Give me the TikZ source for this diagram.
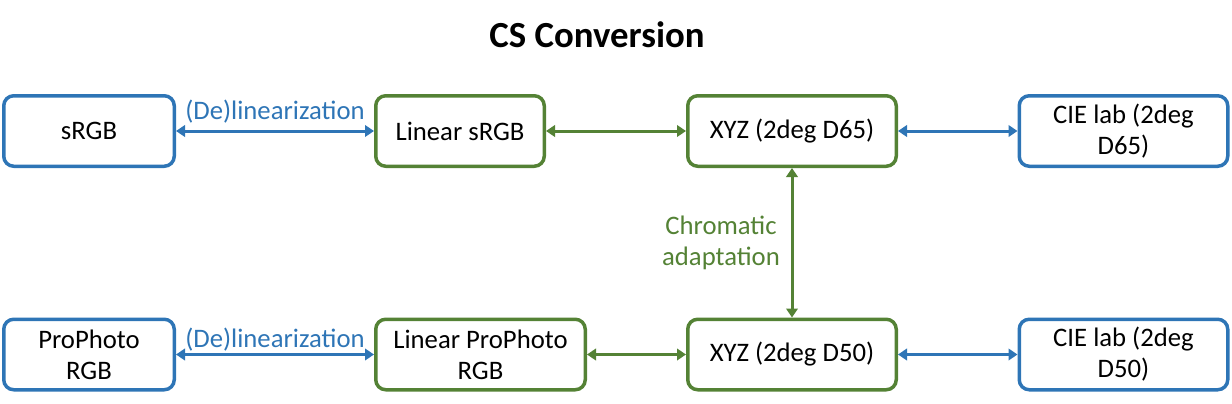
\documentclass[tikz,border=0pt]{standalone}
\usepackage{fontspec}
\setmainfont{Carlito}
\usetikzlibrary{arrows.meta, positioning}
\definecolor{csblue}{RGB}{46,117,182}
\definecolor{csgreen}{RGB}{84,130,53}

\begin{document}
\begin{tikzpicture}[x=0.5pt, y=-0.5pt,
	box/.style={draw=#1, line width=1.75pt, rounded corners=5pt, align=center, minimum height=35.25pt, font=\fontsize{13.35}{15.5}\selectfont},
	link/.style={draw=#1, line width=1.5pt, {Triangle[length=4.5pt, width=5.75pt]}-{Triangle[length=4.5pt, width=5.75pt]}},
	lbl/.style={text=#1, align=center, font=\fontsize{13.35}{15.5}\selectfont}]
	\useasboundingbox (0,0) rectangle (1232,403);
	\node[font=\bfseries\fontsize{18.4}{22}\selectfont] (title) at (597,35) {CS Conversion};
	% top row
	\node[box=csblue, minimum width=85.25pt] (S) at (89,131) {sRGB};
	\node[box=csgreen, minimum width=84.25pt] (LS) at (460,131) {Linear sRGB};
	\node[box=csgreen, minimum width=104.25pt] (X65) at (792,131) {XYZ (2deg D65)};
	\node[box=csblue, minimum width=104.25pt] (L65) at (1123.5,131) {CIE lab (2deg\\D65)};
	% bottom row
	\node[box=csblue, minimum width=85.25pt] (P) at (89,354.5) {ProPhoto\\RGB};
	\node[box=csgreen, minimum width=104.75pt] (LP) at (480.5,354.5) {Linear ProPhoto\\RGB};
	\node[box=csgreen, minimum width=104.25pt] (X50) at (792,354.5) {XYZ (2deg D50)};
	\node[box=csblue, minimum width=104.25pt] (L50) at (1123.5,354.5) {CIE lab (2deg\\D50)};
	\draw[link=csblue] (S) -- node[lbl=csblue, above] {(De)linearization} (LS);
	\draw[link=csgreen] (LS) -- (X65);
	\draw[link=csblue] (X65) -- (L65);
	\draw[link=csblue] (P) -- node[lbl=csblue, above, inner sep=1pt] {(De)linearization} (LP);
	\draw[link=csgreen] (LP) -- (X50);
	\draw[link=csblue] (X50) -- (L50);
	\draw[link=csgreen] (X65) -- node[lbl=csgreen, left, xshift=-2pt] {Chromatic\\adaptation} (X50);
\end{tikzpicture}
\end{document}
